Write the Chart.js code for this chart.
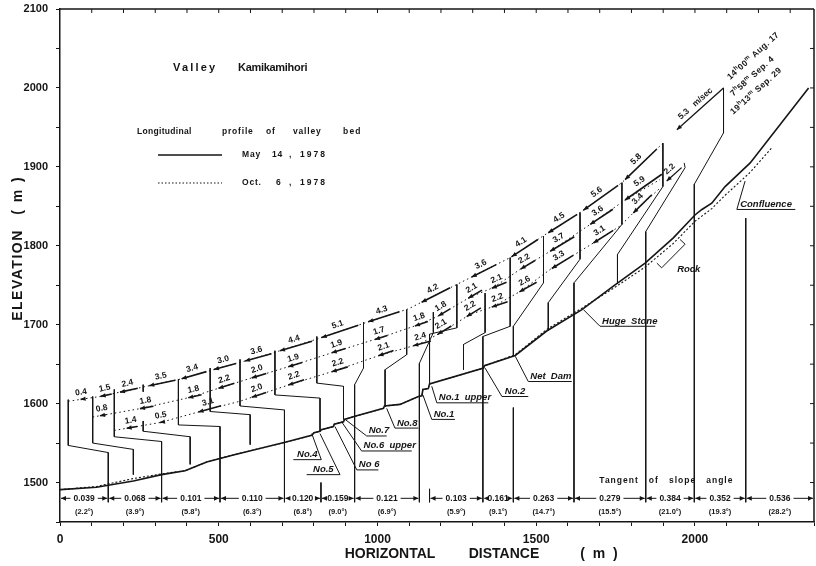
<!DOCTYPE html>
<html>
<head>
<meta charset="utf-8">
<script src="https://cdn.jsdelivr.net/npm/chart.js@4.4.1/dist/chart.umd.min.js"></script>
<style>
  html, body { margin: 0; padding: 0; background: #fff; }
  canvas { display: block; }
</style>
</head>
<body>
<canvas id="perfil" width="816" height="566"></canvas>
<script>
// Valley bed profile, May 14 1978 (horizontal distance m / elevation m)
const bedMayX = [0,115,231,320,394,462,546,709,793,800,819,823,861,864,893,896,929,1019,1022,1071,1129,1140,1143,1160,1164,1334,1337,1434,1533,1644,1743,1843,1932,2000,2022,2053,2095,2174,2358];
const bedMayE = [1491,1494,1502,1510,1515,1526,1535,1551,1560,1563,1565,1567,1571,1574,1577,1580,1584,1594,1597,1599,1609,1610,1618,1619,1625,1645,1648,1661,1692,1719,1749,1778,1810,1839,1846,1854,1875,1905,2000];

// Valley bed profile, Oct. 6 1978
const bedOctX = [0,115,160,231,320,394,462,546,709,793,800,819,823,861,864,893,896,929,1019,1022,1071,1129,1140,1143,1160,1164,1334,1337,1434,1533,1644,1743,1843,1932,2000,2053,2095,2174,2242];
const bedOctE = [1491,1495,1499,1505,1511,1515,1526,1535,1551,1560,1563,1565,1567,1571,1574,1577,1580,1584,1594,1597,1599,1609,1610,1618,1619,1625,1645,1648,1662,1694,1721,1746,1773,1803,1831,1847,1864,1893,1924];

// Flow lines of the three surveys (m / m)
const aug17X = [26,126,262,378,483,583,693,819,966,1097,1250,1418,1528,1638,1770,1899];
const aug17E = [1603,1609,1621,1631,1643,1654,1667,1683,1703,1720,1751,1785,1814,1842,1880,1930];
const sep4X = [103,257,410,504,599,730,861,1013,1129,1187,1292,1365,1449,1544,1670,1780,1890];
const sep4E = [1583,1594,1608,1620,1632,1648,1665,1684,1700,1710,1735,1747,1770,1793,1827,1858,1884];
const sep29X = [171,315,441,567,730,861,1013,1129,1187,1292,1365,1449,1544,1670,1764,1827,1890];
const sep29E = [1566,1576,1590,1603,1625,1641,1662,1675,1687,1713,1723,1742,1770,1801,1825,1850,1873];

// Surface velocities (m/sec) and where each arrow ends (m)
const aug17Tip = [65,128,189,281,383,485,583,693,824,971,1139,1297,1423,1538,1649,1780];
const aug17V   = [0.4,1.5,2.4,3.5,3.4,3.0,3.6,4.4,5.1,4.3,4.2,3.6,4.1,4.5,5.6,5.8];
const sep4Tip  = [126,252,404,499,604,719,856,992,1118,1192,1286,1360,1451,1544,1670,1780];
const sep4V    = [0.8,1.8,1.8,2.2,2.0,1.9,1.9,1.7,1.8,1.8,2.1,2.1,2.2,3.7,3.6,5.9];
const sep29Tip = [210,315,436,604,719,856,1003,1113,1190,1281,1360,1447,1549,1680,1806];
const sep29V   = [1.4,0.5,3.1,2.0,2.2,2.2,2.1,2.4,2.1,2.2,2.2,2.6,3.3,3.1,3.4];

// Loose arrows: tip, tail and text
const looseTipX = [1943, 1911];
const looseTipE = [1947, 1882];
const looseTailX = [2090, 1958];
const looseTailE = [2000, 1899];
const looseText = ['5.3   m/sec', '2.2'];

// Survey dates
const surveyDates = ['14^h00^m Aug. 17', '7^h58^m Sep. 4', '19^h13^m Sep. 29'];
const surveyDateX = [2111, 2121, 2121];
const surveyDateE = [2010, 1989, 1966];

// Measuring sections (polylines, m / m)
const sections = [
  [[26,1605],[26,1547],[152,1538],[152,1475]],
  [[103,1609],[103,1550],[231,1542],[231,1510]],
  [[171,1618],[171,1558],[320,1552],[320,1475]],
  [[262,1624],[262,1615]],
  [[262,1578],[262,1565],[410,1558],[410,1523]],
  [[373,1631],[373,1573],[504,1571],[504,1475]],
  [[473,1645],[473,1590],[599,1586],[599,1548]],
  [[567,1656],[567,1597],[707,1592],[707,1475]],
  [[677,1667],[677,1611],[819,1607],[819,1565]],
  [[822,1500],[822,1475]],
  [[809,1685],[809,1626],[893,1622],[893,1580]],
  [[956,1703],[956,1645],[928,1624],[928,1475]],
  [[1092,1719],[1092,1662],[1024,1643],[1024,1596]],
  [[1176,1716],[1176,1690],[1132,1651],[1132,1475]],
  [[1250,1751],[1250,1696],[1164,1688],[1164,1625]],
  [[1164,1492],[1164,1475]],
  [[1339,1740],[1339,1690],[1271,1675],[1271,1643]],
  [[1418,1785],[1418,1698],[1332,1685],[1332,1475]],
  [[1523,1812],[1523,1753],[1428,1698],[1428,1661]],
  [[1428,1595],[1428,1475]],
  [[1638,1842],[1638,1783],[1538,1728],[1538,1693]],
  [[1770,1880],[1770,1827],[1619,1753],[1619,1475]],
  [[1899,1930],[1899,1875],[1756,1789],[1756,1752]],
  [[1966,1905],[1969,1899],[1845,1818],[1845,1475]],
  [[2090,2000],[2090,1943],[1998,1878],[1998,1475]],
  [[2160,1835],[2160,1475]]
];

// Dams and landmarks with their leader lines
const damNames = ['No.4','No.5','No 6','No.6  upper','No.7','No.8','No.1','No.1  upper','No.2','Net  Dam','Huge  Stone','Confluence'];
const damLeaders = [
  [[793,1562],[823,1529],[735,1529]],
  [[819,1562],[882,1510],[777,1510]],
  [[866,1571],[935,1516],[1003,1516]],
  [[887,1577],[950,1540],[1108,1540]],
  [[898,1580],[966,1559],[1029,1559]],
  [[1029,1594],[1055,1569],[1129,1569]],
  [[1143,1611],[1171,1580],[1244,1580]],
  [[1171,1622],[1187,1601],[1349,1601]],
  [[1339,1645],[1392,1609],[1475,1609]],
  [[1434,1660],[1475,1628],[1612,1628]],
  [[1649,1719],[1701,1698],[1875,1698]],
  [[2158,1882],[2132,1846],[2316,1846]]
];
const rockOutline = [[1880,1778],[1895,1772],[1969,1802],[1953,1808]];

// Tangent of slope angle per reach
const reachStart = [0,152,320,504,707,822,928,1164,1332,1428,1619,1845,1998,2160];
const reachEnd   = [152,320,504,707,822,928,1132,1332,1428,1619,1845,1998,2160,2375];
const reachTan   = ['0.039','0.068','0.101','0.110','0.120','0.159','0.121','0.103','0.161','0.263','0.279','0.384','0.352','0.536'];
const reachDeg   = ['2.2','3.9','5.8','6.3','6.8','9.0','6.9','5.9','9.1','14.7','15.5','21.0','19.3','28.2'];

const F = '"Liberation Sans", "DejaVu Sans", Arial, sans-serif';
const INK = '#151515';

function linha(pts, extra) {
  return Object.assign({
    data: pts.map(p => ({ x: p[0], y: p[1] })),
    showLine: true, pointRadius: 0, borderColor: INK, borderWidth: 1, fill: false, tension: 0
  }, extra || {});
}
const zipPts = (xs, es) => xs.map((v, i) => [v, es[i]]);

const datasets = [
  linha(zipPts(bedMayX, bedMayE), { borderWidth: 1.6 }),
  linha(zipPts(bedOctX, bedOctE), { borderWidth: 1.1, borderDash: [2, 2] }),
  linha(zipPts(aug17X, aug17E), { borderDash: [1.5, 3] }),
  linha(zipPts(sep4X, sep4E), { borderDash: [1.5, 3] }),
  linha(zipPts(sep29X, sep29E), { borderDash: [1.5, 3] }),
  linha(rockOutline)
];
sections.forEach(s => datasets.push(linha(s)));
damLeaders.forEach(s => datasets.push(linha(s)));

// Draws arrows, labels, legend and frame on top of the plot
const anotacoes = {
  id: 'anotacoes',
  afterDatasetsDraw(chart) {
    const { ctx, chartArea: ca } = chart;
    const sx = chart.scales.x, sy = chart.scales.y;
    const X = v => sx.getPixelForValue(v), Y = v => sy.getPixelForValue(v);
    ctx.save();
    ctx.strokeStyle = INK; ctx.fillStyle = INK;

    const seg = (a, b, c, d) => { ctx.beginPath(); ctx.moveTo(a, b); ctx.lineTo(c, d); ctx.stroke(); };
    const ponta = (px, py, ux, uy, len, half) => {
      ctx.beginPath();
      ctx.moveTo(px, py);
      ctx.lineTo(px - ux * len + uy * half, py - uy * len - ux * half);
      ctx.lineTo(px - ux * len - uy * half, py - uy * len + ux * half);
      ctx.closePath(); ctx.fill();
    };
    const rotulo = (txt, cx, cy, ang, size) => {
      ctx.save();
      ctx.translate(cx, cy); ctx.rotate(ang);
      ctx.font = `bold ${size}px ${F}`;
      ctx.textAlign = 'center'; ctx.textBaseline = 'middle';
      ctx.fillText(txt, 0, 0);
      ctx.restore();
    };
    const texto = (txt, x, y, font, spacing) => {
      ctx.font = font;
      ctx.letterSpacing = spacing;
      ctx.fillText(txt, x, y);
      ctx.letterSpacing = '0px';
    };

    // top and right frame with inward ticks
    ctx.lineWidth = 1.5;
    seg(ca.left, ca.top, ca.right, ca.top);
    seg(ca.right, ca.top, ca.right, ca.bottom);
    ctx.lineWidth = 1;
    for (let v = 100; v < 2375; v += 100) seg(X(v), ca.top, X(v), ca.top + 4);
    for (let v = 1500; v < 2100; v += 50) seg(ca.right - 4, Y(v), ca.right, Y(v));

    // velocity arrows along the flow lines
    const setas = (xs, es, tips, vals) => {
      tips.forEach((t, k) => {
        let i = 0;
        while (i < xs.length - 2 && xs[i + 1] < t) i++;
        const f = (t - xs[i]) / (xs[i + 1] - xs[i]);
        const e = es[i] + f * (es[i + 1] - es[i]);
        const px = X(t), py = Y(e);
        let dx = X(xs[i + 1]) - X(xs[i]), dy = Y(es[i + 1]) - Y(es[i]);
        const n = Math.hypot(dx, dy); dx /= n; dy /= n;
        const L = Math.max(vals[k] * 7.6, 3);
        const tx = px + dx * L, ty = py + dy * L;
        ctx.lineWidth = 1.6;
        seg(px, py, tx, ty);
        ponta(px, py, -dx, -dy, 5, 2.2);
        const mx = (px + tx) / 2 + dy * 7, my = (py + ty) / 2 - dx * 7;
        rotulo(vals[k].toFixed(1), mx, my, Math.atan2(dy, dx), 8.5);
      });
    };
    setas(aug17X, aug17E, aug17Tip, aug17V);
    setas(sep4X, sep4E, sep4Tip, sep4V);
    setas(sep29X, sep29E, sep29Tip, sep29V);

    looseTipX.forEach((t, k) => {
      const px = X(t), py = Y(looseTipE[k]), tx = X(looseTailX[k]), ty = Y(looseTailE[k]);
      let dx = tx - px, dy = ty - py;
      const n = Math.hypot(dx, dy); dx /= n; dy /= n;
      ctx.lineWidth = 1.3;
      seg(px, py, tx, ty);
      ponta(px, py, -dx, -dy, 5, 2.2);
      rotulo(looseText[k], (px + tx) / 2 + dy * 7, (py + ty) / 2 - dx * 7, Math.atan2(dy, dx), 8.5);
    });

    // survey dates with superscript hour marks
    surveyDates.forEach((s, k) => {
      ctx.save();
      ctx.translate(X(surveyDateX[k]), Y(surveyDateE[k]));
      ctx.rotate(-42 * Math.PI / 180);
      ctx.textAlign = 'left'; ctx.textBaseline = 'alphabetic';
      let cx = 0;
      for (let i = 0; i < s.length; i++) {
        if (s[i] === '^') {
          ctx.font = `bold 6px ${F}`;
          ctx.fillText(s[i + 1], cx, -3.5);
          cx += ctx.measureText(s[i + 1]).width + 0.4;
          i++;
        } else {
          ctx.font = `bold 8.5px ${F}`;
          ctx.fillText(s[i], cx, 0);
          cx += ctx.measureText(s[i]).width + 0.4;
        }
      }
      ctx.restore();
    });

    // dam labels
    ctx.font = `italic bold 9.5px ${F}`;
    ctx.textAlign = 'left'; ctx.textBaseline = 'alphabetic';
    damLeaders.forEach((l, k) => {
      const a = l[1], b = l[2];
      const x0 = Math.min(X(a[0]), X(b[0]));
      const span = Math.abs(X(a[0]) - X(b[0]));
      const w = ctx.measureText(damNames[k]).width;
      ctx.fillText(damNames[k], x0 + Math.max(2, (span - w) / 2), Y(a[1]) - 2.5);
    });
    ctx.fillText('Rock', X(1944), Y(1767));

    // slope table at the foot of the profile
    ctx.lineWidth = 1;
    reachStart.forEach((s, k) => {
      const x0 = X(s) + 1, x1 = X(reachEnd[k]) - 1, xm = (x0 + x1) / 2;
      const yy = Y(1480), ya = Y(1463);
      ctx.font = `bold 8.5px ${F}`;
      const w = ctx.measureText(reachTan[k]).width;
      seg(x0, yy, xm - w / 2 - 3, yy);
      seg(xm + w / 2 + 3, yy, x1, yy);
      ponta(x0, yy, -1, 0, 5, 2.4);
      ponta(x1, yy, 1, 0, 5, 2.4);
      ctx.textAlign = 'center'; ctx.textBaseline = 'middle';
      ctx.fillText(reachTan[k], xm, yy);
      ctx.font = `bold 7.5px ${F}`;
      ctx.fillText('(' + reachDeg[k] + '°)', xm, ya);
    });
    ctx.textAlign = 'center'; ctx.textBaseline = 'middle';
    texto('Tangent   of   slope   angle', X(1910), Y(1503), `bold 8.5px ${F}`, '1px');

    // title and legend (page layout)
    ctx.textAlign = 'left';
    texto('Valley', 173, 68, `bold 11px ${F}`, '2.2px');
    texto('Kamikamihori', 238, 68, `bold 11px ${F}`, '-0.3px');
    const leg = `bold 8.5px ${F}`;
    texto('Longitudinal', 137, 132, leg, '0.3px');
    texto('profile', 222, 132, leg, '0.8px');
    texto('of', 266, 132, leg, '0.8px');
    texto('valley', 293, 132, leg, '0.8px');
    texto('bed', 343, 132, leg, '1.2px');
    texto('May', 242, 155, leg, '0.8px');
    texto('14', 272, 155, leg, '0.8px');
    texto(',', 289, 155, leg, '0px');
    texto('1978', 300, 155, leg, '2px');
    texto('Oct.', 242, 183, leg, '0.8px');
    texto('6', 276, 183, leg, '0px');
    texto(',', 289, 183, leg, '0px');
    texto('1978', 300, 183, leg, '2px');
    ctx.lineWidth = 1.3;
    seg(158, 155, 222, 155);
    ctx.setLineDash([1.5, 2]); ctx.lineWidth = 1.1;
    seg(158, 183, 222, 183);
    ctx.setLineDash([]);

    // axis titles
    ctx.textAlign = 'center';
    const tit = `bold 14px ${F}`;
    texto('HORIZONTAL', 390, 554, tit, '0px');
    texto('DISTANCE', 504, 554, tit, '0px');
    texto('(  m  )', 599, 554, tit, '0px');
    ctx.save();
    ctx.translate(18, 0); ctx.rotate(-Math.PI / 2);
    texto('ELEVATION', -275, 0, tit, '1.5px');
    texto('(  m  )', -196, 0, tit, '0px');
    ctx.restore();
    ctx.restore();
  }
};

new Chart(document.getElementById('perfil'), {
  type: 'scatter',
  data: { datasets },
  options: {
    responsive: false,
    animation: false,
    layout: { padding: { top: 9, right: 2, left: 0, bottom: 0 } },
    plugins: { legend: { display: false }, tooltip: { enabled: false } },
    scales: {
      x: {
        type: 'linear', min: 0, max: 2375,
        afterFit(s) { s.height = 44; s.paddingLeft = 0; s.paddingRight = 0; },
        border: { color: INK, width: 1.5 },
        grid: { drawOnChartArea: false, tickLength: 4, color: INK },
        ticks: {
          stepSize: 100, autoSkip: false, maxRotation: 0, padding: 6, color: INK,
          font: { family: F, size: 12, weight: 'bold' },
          callback: v => (v % 500 === 0 ? String(v) : '')
        }
      },
      y: {
        type: 'linear', min: 1450, max: 2100,
        afterFit(s) { s.width = 60; s.paddingTop = 0; s.paddingBottom = 0; },
        border: { color: INK, width: 1.5 },
        grid: { drawOnChartArea: false, tickLength: 4, color: INK },
        ticks: {
          stepSize: 50, autoSkip: false, padding: 8, color: INK,
          font: { family: F, size: 11, weight: 'bold' },
          callback: v => (v % 100 === 0 && v >= 1500 ? String(v) : '')
        }
      }
    }
  },
  plugins: [anotacoes]
});
</script>
</body>
</html>
